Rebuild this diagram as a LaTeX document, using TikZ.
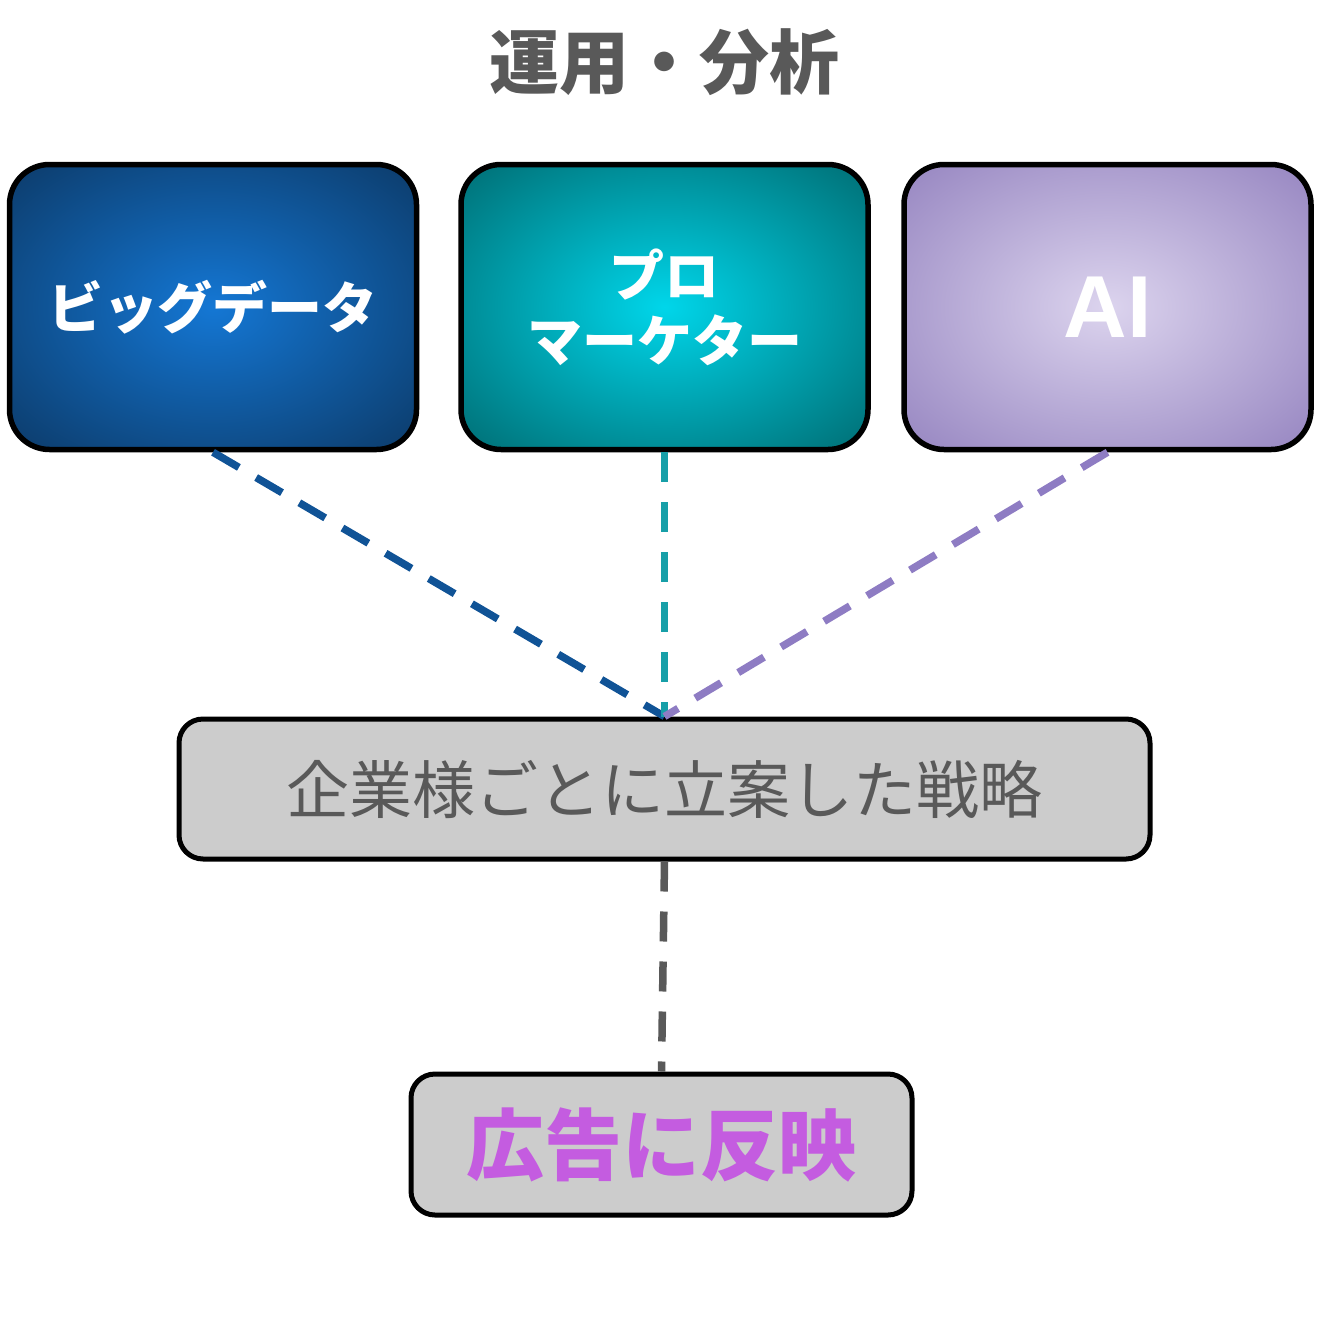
\documentclass[tikz,border=0pt]{standalone}
\usepackage{fontspec}
\setmainfont{Noto Sans CJK JP}
\newfontfamily\jpfont{Noto Sans CJK JP}
\newfontfamily\latinfont{Liberation Sans}
\definecolor{titlegray}{HTML}{595959}
\definecolor{boxgray}{HTML}{CCCCCC}
\definecolor{bluein}{HTML}{1477D4}
\definecolor{blueout}{HTML}{0C3A68}
\definecolor{tealin}{HTML}{00D6EA}
\definecolor{tealout}{HTML}{006C72}
\definecolor{purpin}{HTML}{DCD4EE}
\definecolor{purpout}{HTML}{9584C0}
\definecolor{blueline}{HTML}{105396}
\definecolor{tealline}{HTML}{179FA8}
\definecolor{purpline}{HTML}{8E7CC3}
\definecolor{resultpink}{HTML}{C45CE0}
\pgfdeclareradialshading{softblue}{\pgfpoint{0bp}{0bp}}{color(0bp)=(bluein); color(36bp)=(blueout); color(50bp)=(blueout)}
\pgfdeclareradialshading{softteal}{\pgfpoint{0bp}{0bp}}{color(0bp)=(tealin); color(36bp)=(tealout); color(50bp)=(tealout)}
\pgfdeclareradialshading{softpurp}{\pgfpoint{0bp}{0bp}}{color(0bp)=(purpin); color(36bp)=(purpout); color(50bp)=(purpout)}
\tikzset{
  topbox/.style={draw=black, line width=5.5pt, rounded corners=40pt, minimum width=407pt, minimum height=285pt, align=center, text=white, inner sep=0pt},
  graybox/.style={draw=black, line width=5pt, rounded corners=24pt, fill=boxgray, inner sep=0pt},
  conn/.style={line width=7.5pt, dash pattern=on 30pt off 20pt},
}
\begin{document}
\begin{tikzpicture}[x=1pt,y=-1pt]
\useasboundingbox (0,0) rectangle (1321,1326);
\node[text=titlegray, font=\jpfont\bfseries\fontsize{70}{80}\selectfont] (title) at (664,62) {運用・分析};
\node[topbox, shading=softblue, font=\jpfont\bfseries\fontsize{55}{65}\selectfont] (big) at (213,307) {ビッグデータ};
\node[topbox, shading=softteal, font=\jpfont\bfseries\fontsize{55}{65}\selectfont] (pro) at (664.5,307) {プロ\\マーケター};
\node[topbox, shading=softpurp, font=\latinfont\bfseries\fontsize{88}{100}\selectfont] (ai) at (1107.5,307) {AI};
\node[graybox, minimum width=971pt, minimum height=140pt, text=titlegray, font=\jpfont\fontsize{63}{70}\selectfont] (strat) at (664.5,789) {企業様ごとに立案した戦略};
\node[graybox, minimum width=501pt, minimum height=141pt, text=resultpink, font=\jpfont\bfseries\fontsize{78}{86}\selectfont] (res) at (661.5,1144.5) {広告に反映};
\draw[conn, blueline] (big.south) -- (strat.north);
\draw[conn, tealline] (pro.south) -- (strat.north);
\draw[conn, purpline] (ai.south) -- (strat.north);
\draw[conn, titlegray] (strat.south) -- (res.north);
\end{tikzpicture}
\end{document}
